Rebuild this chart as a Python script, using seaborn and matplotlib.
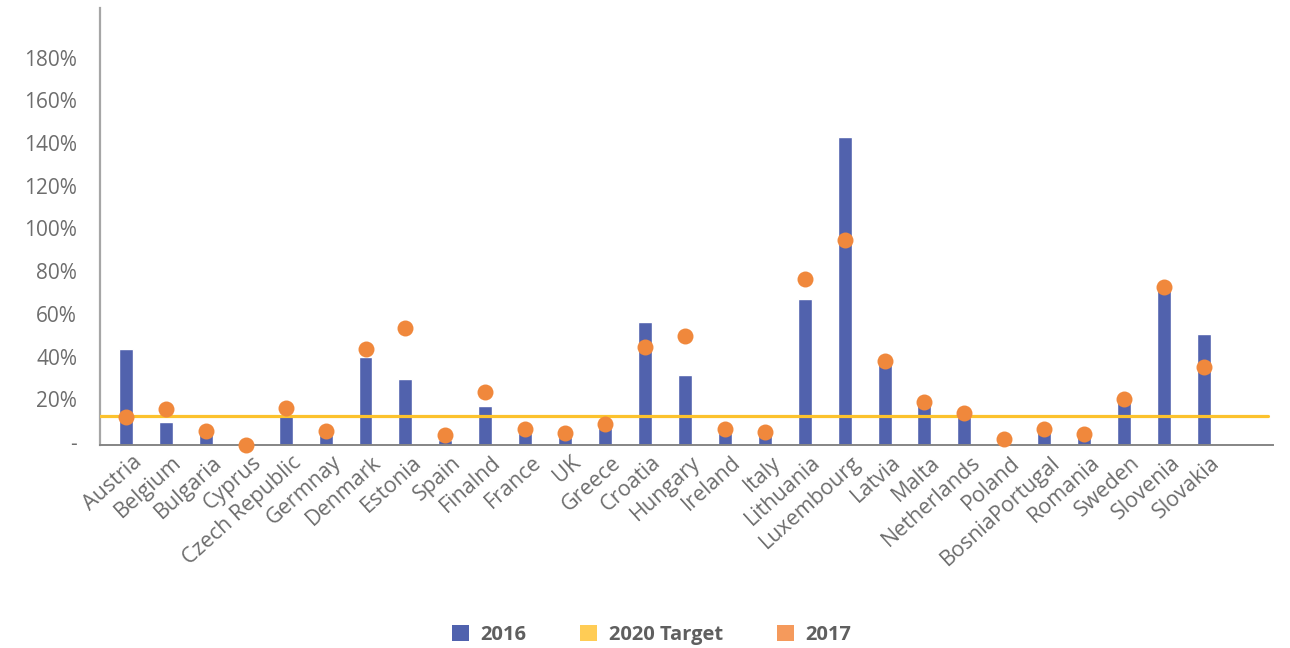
import matplotlib
matplotlib.use("Agg")
import matplotlib.pyplot as plt
import matplotlib.transforms as mtransforms
from matplotlib.patches import Patch
import seaborn as sns
import pandas as pd

countries = ["Austria", "Belgium", "Bulgaria", "Cyprus", "Czech Republic", "Germnay",
             "Denmark", "Estonia", "Spain", "Finalnd", "France", "UK", "Greece",
             "Croatia", "Hungary", "Ireland", "Italy", "Lithuania", "Luxembourg",
             "Latvia", "Malta", "Netherlands", "Poland", "BosniaPortugal", "Romania",
             "Sweden", "Slovenia", "Slovakia"]
values_2016 = [44.9, 10.8, 5.6, 0.0, 13.6, 4.7, 41.2, 30.9, 2.3, 18.3, 5.6, 3.9, 7.8,
               57.6, 32.8, 5.6, 4.7, 68.4, 144.2, 38.4, 18.7, 13.2, 0.5, 6.2, 3.9,
               20.3, 72.6, 52.0]
values_2017 = [13.2, 16.7, 6.6, 0.0, 17.2, 6.7, 44.9, 54.9, 4.5, 25.0, 7.5, 5.5, 9.7,
               45.9, 50.9, 7.5, 6.2, 77.7, 96.1, 39.2, 20.1, 14.8, 2.7, 7.4, 5.0,
               21.5, 73.8, 36.4]
target_2020 = 13.6
y_ticks = [0, 20, 40, 60, 80, 100, 120, 140, 160, 180]
y_tick_labels = ["-", "20%", "40%", "60%", "80%", "100%", "120%", "140%", "160%", "180%"]
legend_labels = ["2016", "2020 Target", "2017"]

df = pd.DataFrame({"country": countries, "v2016": values_2016, "v2017": values_2017})

sns.set_theme(style="white")
plt.rcParams["font.family"] = ["Open Sans", "DejaVu Sans"]

BAR = "#5162ad"
DOT = "#f0883c"
TGT = "#fcc22d"
TXT = "#6d6d6d"

fig = plt.figure(figsize=(12.9, 6.48), dpi=100)
ax = fig.add_axes([100 / 1290, 1 - 445 / 648, 1173 / 1290, 437 / 648])

sns.barplot(data=df, x="country", y="v2016", color=BAR, saturation=1, width=0.35,
            ax=ax, zorder=2)
ax.axhline(target_2020, xmin=0, xmax=1168 / 1173, color=TGT, lw=2.3, zorder=3)
sns.stripplot(data=df, x="country", y="v2017", color=DOT, jitter=False, size=11.5,
              linewidth=0, ax=ax, zorder=4)
for coll in ax.collections:
    coll.set_clip_on(False)

ax.set_xlim(-0.65, 28.73)
ax.set_ylim(0, 204.6)
ax.set_xlabel("")
ax.set_ylabel("")

ax.set_yticks(y_ticks)
ax.set_yticklabels(y_tick_labels, fontsize=15, color=TXT)
ax.tick_params(axis="y", length=0, pad=16.5)
off = mtransforms.ScaledTranslation(0, 3 / 100, fig.dpi_scale_trans)
for lab in ax.get_yticklabels():
    lab.set_transform(lab.get_transform() + off)

ax.tick_params(axis="x", length=0, pad=5)
ax.set_xticks(range(len(countries)))
ax.set_xticklabels(countries, rotation=42, ha="right", rotation_mode="anchor",
                   fontsize=15.5, color=TXT)
offx = mtransforms.ScaledTranslation(6 / 100, 0, fig.dpi_scale_trans)
for lab in ax.get_xticklabels():
    lab.set_transform(lab.get_transform() + offx)

for s in ["top", "right"]:
    ax.spines[s].set_visible(False)
ax.spines["left"].set_color("#a6a6a6")
ax.spines["left"].set_linewidth(1.6)
ax.spines["bottom"].set_color("#858585")
ax.spines["bottom"].set_linewidth(1.4)
ax.grid(False)

handles = [Patch(facecolor="#5062ae", edgecolor="none"),
           Patch(facecolor="#ffcc55", edgecolor="none"),
           Patch(facecolor="#f59a5c", edgecolor="none")]
leg = fig.legend(handles, legend_labels, loc="center", bbox_to_anchor=(0.505, 0.02),
                 ncol=3, frameon=False, handlelength=0.85, handleheight=0.85,
                 handletextpad=0.55, columnspacing=2.7,
                 prop={"size": 14.5, "weight": "bold"})
for t in leg.get_texts():
    t.set_color("#5f5f5f")

fig.savefig("out.png", dpi=100)
